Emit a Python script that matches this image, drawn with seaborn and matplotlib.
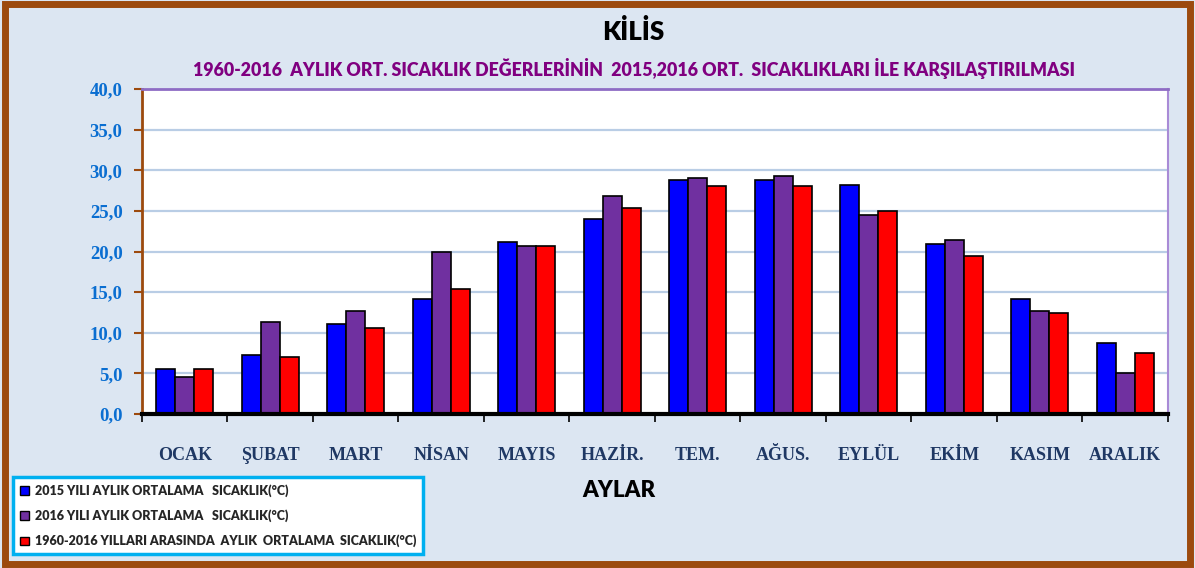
import matplotlib
matplotlib.use("Agg")
import matplotlib.pyplot as plt
import seaborn as sns
import pandas as pd
from matplotlib.patches import Rectangle, Patch
from matplotlib.ticker import FuncFormatter, FixedLocator

# Veriler
aylar = ["OCAK", "ŞUBAT", "MART", "NİSAN", "MAYIS", "HAZİR.", "TEM.",
         "AĞUS.", "EYLÜL", "EKİM", "KASIM", "ARALIK"]
sicaklik_2015 = [5.5, 7.3, 11.1, 14.2, 21.2, 24.0, 28.8, 28.8, 28.2, 20.9, 14.1, 8.8]
sicaklik_2016 = [4.6, 11.3, 12.7, 19.9, 20.7, 26.8, 29.0, 29.3, 24.5, 21.4, 12.7, 5.1]
sicaklik_ort = [5.5, 7.0, 10.6, 15.4, 20.7, 25.4, 28.1, 28.1, 25.0, 19.4, 12.4, 7.5]

seri_adlari = ["2015 YILI AYLIK ORTALAMA   SICAKLIK(°C)",
               "2016 YILI AYLIK ORTALAMA   SICAKLIK(°C)",
               "1960-2016 YILLARI ARASINDA  AYLIK  ORTALAMA  SICAKLIK(°C)"]
renkler = ["#0000ff", "#7030a0", "#ff0000"]

df = pd.DataFrame({
    "ay": aylar * 3,
    "deger": sicaklik_2015 + sicaklik_2016 + sicaklik_ort,
    "seri": [seri_adlari[0]] * 12 + [seri_adlari[1]] * 12 + [seri_adlari[2]] * 12,
})

sns.set_theme(style="white")
plt.rcParams["font.family"] = ["Lato", "DejaVu Sans"]

fig = plt.figure(figsize=(11.95, 5.68), dpi=100)
fig.patch.set_facecolor("#dce6f2")
ax = fig.add_axes([0.1188, 0.2711, 0.8586, 0.5722])
ax.set_facecolor("white")

sns.barplot(data=df, x="ay", y="deger", hue="seri", order=aylar,
            hue_order=seri_adlari, palette=renkler, width=0.67, saturation=1,
            edgecolor="black", linewidth=1.2, ax=ax, legend=False)

ax.set_ylim(0, 40)
ax.set_xlim(-0.5, 11.5)
ax.set_yticks(range(0, 41, 5))
ax.yaxis.set_major_formatter(FuncFormatter(lambda v, p: f"{v:.1f}".replace(".", ",")))
ax.yaxis.grid(True, color="#b9cde5", linewidth=1.6)
ax.set_axisbelow(True)

# x ekseni: etiketler ortada, cizgiler gruplar arasinda
ax.xaxis.set_minor_locator(FixedLocator([i - 0.5 for i in range(13)]))
ax.tick_params(axis="x", which="major", length=0, pad=24)
ax.tick_params(axis="x", which="minor", length=6, width=1.2, color="black", bottom=True)
ax.tick_params(axis="y", which="major", length=6, width=1.5, color="#9c4a0e", left=True, pad=8)

for lab in ax.get_xticklabels():
    lab.set_fontfamily(["Liberation Serif", "DejaVu Serif"])
    lab.set_fontweight("bold")
    lab.set_fontsize(13)
    lab.set_color("#1f3864")
for lab in ax.get_yticklabels():
    lab.set_fontfamily(["Liberation Serif", "DejaVu Serif"])
    lab.set_fontweight("bold")
    lab.set_fontsize(13.5)
    lab.set_color("#0a6ed1")

ax.set_xlabel("")
ax.set_ylabel("")

ax.spines["left"].set_color("#9c4a0e")
ax.spines["left"].set_linewidth(2)
ax.spines["bottom"].set_color("black")
ax.spines["bottom"].set_linewidth(3)
ax.spines["top"].set_color("#8e6cc4")
ax.spines["top"].set_linewidth(2)
ax.spines["right"].set_color("#a98bd6")
ax.spines["right"].set_linewidth(1.5)

# basliklar
fig.text(0.5302, 0.944, "KİLİS", ha="center", va="center", fontsize=18.5,
         fontweight="heavy", color="black")
fig.text(0.5302, 0.880,
         "1960-2016  AYLIK ORT. SICAKLIK DEĞERLERİNİN  2015,2016 ORT.  SICAKLIKLARI İLE KARŞILAŞTIRILMASI",
         ha="center", va="center", fontsize=12.8, fontweight="heavy", color="#800080")
fig.text(0.518, 0.137, "AYLAR", ha="center", va="center", fontsize=16,
         fontweight="heavy", color="black")

# lejant
handles = [Patch(facecolor=c, edgecolor="black", linewidth=1) for c in renkler]
leg = fig.legend(handles, seri_adlari, loc="lower left",
                 bbox_to_anchor=(0.011, 0.024), bbox_transform=fig.transFigure,
                 frameon=True, fancybox=False, framealpha=1, fontsize=9,
                 handlelength=0.7, handleheight=0.7, handletextpad=0.5,
                 labelspacing=1.0, borderpad=0.55, borderaxespad=0)
leg.get_frame().set_facecolor("white")
leg.get_frame().set_edgecolor("#00b0f0")
leg.get_frame().set_linewidth(2.5)
for t in leg.get_texts():
    t.set_fontweight("heavy")

# dis cerceve
fig.patches.append(Rectangle((0.004, 0.007), 0.992, 0.986, transform=fig.transFigure,
                             fill=False, edgecolor="#9c4a0e", linewidth=5))

fig.savefig("out.png", dpi=100)
